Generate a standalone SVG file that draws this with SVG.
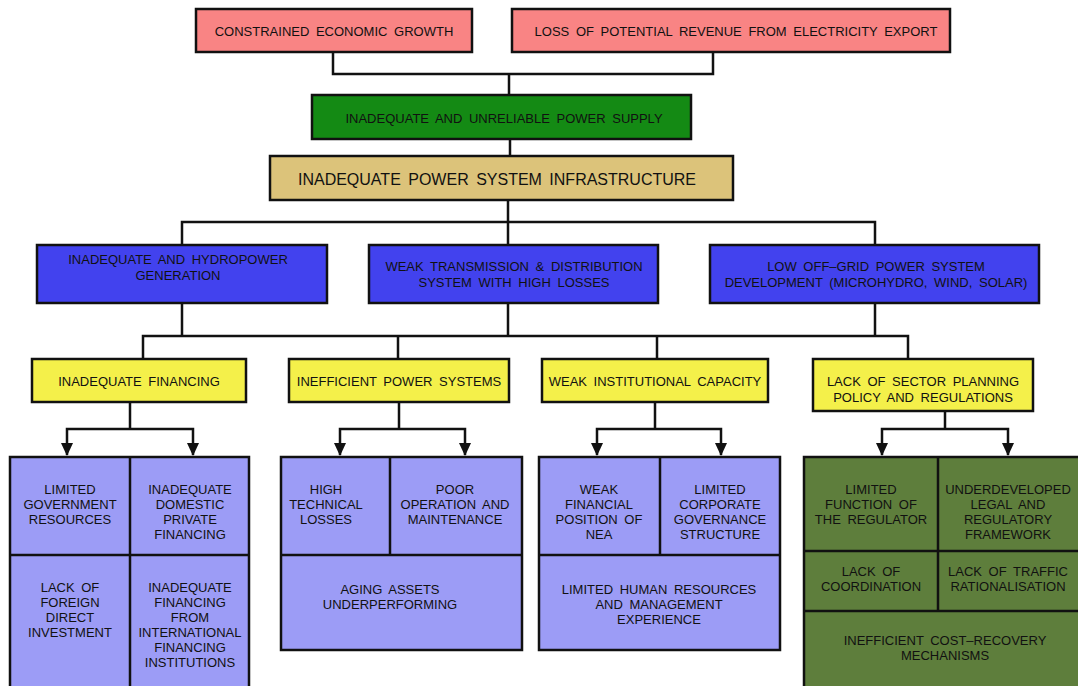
<svg xmlns="http://www.w3.org/2000/svg" width="1078" height="686" viewBox="0 0 1078 686">
<defs>
<style>
.b{stroke:#111;stroke-width:2.5}
.pink{fill:#f98484}
.grn{fill:#148a14}
.tan{fill:#dcc37a}
.blue{fill:#4242ee}
.yel{fill:#f4f04a}
.lav{fill:#9c9cf6}
.olv{fill:#5e7e3c}
.ln{fill:none;stroke:#111;stroke-width:2.5}
text{font-family:"Liberation Sans",Arial,sans-serif;font-size:13px;fill:#111;text-anchor:middle;word-spacing:3px}
.big{font-size:16px}
</style>
</defs>
<rect width="1078" height="686" fill="#fff"/>
<g id="connectors">
<path class="ln" d="M333,52 V74 H713 V52 M509,74 V95"/>
<path class="ln" d="M510,139 V156"/>
<path class="ln" d="M508,200 V222 M182,245 V222 H875 V245 M508,222 V245"/>
<path class="ln" d="M182,303 V336 M508,303 V336 M875,303 V336 M143,359 V336 H908 V359 M398,336 V359 M657,336 V359"/>
<path class="ln" d="M130,402 V429 M67,455 V429 H193 V455"/>
<path class="ln" d="M399,402 V429 M340,455 V429 H465 V455"/>
<path class="ln" d="M655,402 V429 M597,455 V429 H721 V455"/>
<path class="ln" d="M945,411 V429 M882,455 V429 H1008 V455"/>
<g stroke="none" fill="#111">
<path d="M61,443 H73 L67,456 Z"/><path d="M187,443 H199 L193,456 Z"/>
<path d="M334,443 H346 L340,456 Z"/><path d="M459,443 H471 L465,456 Z"/>
<path d="M591,443 H603 L597,456 Z"/><path d="M715,443 H727 L721,456 Z"/>
<path d="M876,443 H888 L882,456 Z"/><path d="M1002,443 H1014 L1008,456 Z"/>
</g>
</g>
<g id="n-constrained"><rect class="b pink" x="196" y="9" width="276" height="43"/><text x="334" y="36">CONSTRAINED ECONOMIC GROWTH</text></g>
<g id="n-loss"><rect class="b pink" x="512" y="9" width="438" height="43"/><text x="736" y="36">LOSS OF POTENTIAL REVENUE FROM ELECTRICITY EXPORT</text></g>
<g id="n-supply"><rect class="b grn" x="312" y="95" width="379" height="44"/><text x="504" y="123">INADEQUATE AND UNRELIABLE POWER SUPPLY</text></g>
<g id="n-infra"><rect class="b tan" x="270" y="156" width="463" height="44"/><text class="big" x="497" y="185">INADEQUATE POWER SYSTEM INFRASTRUCTURE</text></g>
<g id="n-hydro"><rect class="b blue" x="37" y="245" width="290" height="58"/><text x="178" y="264">INADEQUATE AND HYDROPOWER</text><text x="178" y="280">GENERATION</text></g>
<g id="n-trans"><rect class="b blue" x="369" y="245" width="289" height="58"/><text x="514" y="271">WEAK TRANSMISSION &amp; DISTRIBUTION</text><text x="514" y="287">SYSTEM WITH HIGH LOSSES</text></g>
<g id="n-offgrid"><rect class="b blue" x="710" y="245" width="329" height="58"/><text x="876" y="271">LOW OFF–GRID POWER SYSTEM</text><text x="876" y="287">DEVELOPMENT (MICROHYDRO, WIND, SOLAR)</text></g>
<g id="n-fin"><rect class="b yel" x="32" y="359" width="214" height="43"/><text x="139" y="386">INADEQUATE FINANCING</text></g>
<g id="n-ineff"><rect class="b yel" x="289" y="359" width="220" height="43"/><text x="399" y="386">INEFFICIENT POWER SYSTEMS</text></g>
<g id="n-inst"><rect class="b yel" x="542" y="359" width="226" height="43"/><text x="655" y="386">WEAK INSTITUTIONAL CAPACITY</text></g>
<g id="n-plan"><rect class="b yel" x="813" y="359" width="220" height="52"/><text x="923" y="386">LACK OF SECTOR PLANNING</text><text x="923" y="402">POLICY AND REGULATIONS</text></g>
<g id="g-fin">
<rect class="b lav" x="10" y="457" width="239" height="240"/>
<path class="ln" d="M130,457 V697 M10,555 H249"/>
<text x="70" y="494">LIMITED</text><text x="70" y="509">GOVERNMENT</text><text x="70" y="524">RESOURCES</text>
<text x="190" y="494">INADEQUATE</text><text x="190" y="509">DOMESTIC</text><text x="190" y="524">PRIVATE</text><text x="190" y="539">FINANCING</text>
<text x="70" y="592">LACK OF</text><text x="70" y="607">FOREIGN</text><text x="70" y="622">DIRECT</text><text x="70" y="637">INVESTMENT</text>
<text x="190" y="592">INADEQUATE</text><text x="190" y="607">FINANCING</text><text x="190" y="622">FROM</text><text x="190" y="637">INTERNATIONAL</text><text x="190" y="652">FINANCING</text><text x="190" y="667">INSTITUTIONS</text>
</g>
<g id="g-ineff">
<rect class="b lav" x="281" y="457" width="241" height="193"/>
<path class="ln" d="M390,457 V555 M281,555 H522"/>
<text x="326" y="494">HIGH</text><text x="326" y="509">TECHNICAL</text><text x="326" y="524">LOSSES</text>
<text x="455" y="494">POOR</text><text x="455" y="509">OPERATION AND</text><text x="455" y="524">MAINTENANCE</text>
<text x="390" y="594">AGING ASSETS</text><text x="390" y="609">UNDERPERFORMING</text>
</g>
<g id="g-inst">
<rect class="b lav" x="539" y="457" width="241" height="193"/>
<path class="ln" d="M660,457 V555 M539,555 H780"/>
<text x="599" y="494">WEAK</text><text x="599" y="509">FINANCIAL</text><text x="599" y="524">POSITION OF</text><text x="599" y="539">NEA</text>
<text x="720" y="494">LIMITED</text><text x="720" y="509">CORPORATE</text><text x="720" y="524">GOVERNANCE</text><text x="720" y="539">STRUCTURE</text>
<text x="659" y="594">LIMITED HUMAN RESOURCES</text><text x="659" y="609">AND MANAGEMENT</text><text x="659" y="624">EXPERIENCE</text>
</g>
<g id="g-plan">
<rect class="b olv" x="804" y="457" width="290" height="240"/>
<path class="ln" d="M938,457 V611 M804,551 H1090 M804,611 H1090"/>
<text x="871" y="494">LIMITED</text><text x="871" y="509">FUNCTION OF</text><text x="871" y="524">THE REGULATOR</text>
<text x="1008" y="494">UNDERDEVELOPED</text><text x="1008" y="509">LEGAL AND</text><text x="1008" y="524">REGULATORY</text><text x="1008" y="539">FRAMEWORK</text>
<text x="871" y="576">LACK OF</text><text x="871" y="591">COORDINATION</text>
<text x="1008" y="576">LACK OF TRAFFIC</text><text x="1008" y="591">RATIONALISATION</text>
<text x="945" y="645">INEFFICIENT COST–RECOVERY</text><text x="945" y="660">MECHANISMS</text>
</g>
</svg>
